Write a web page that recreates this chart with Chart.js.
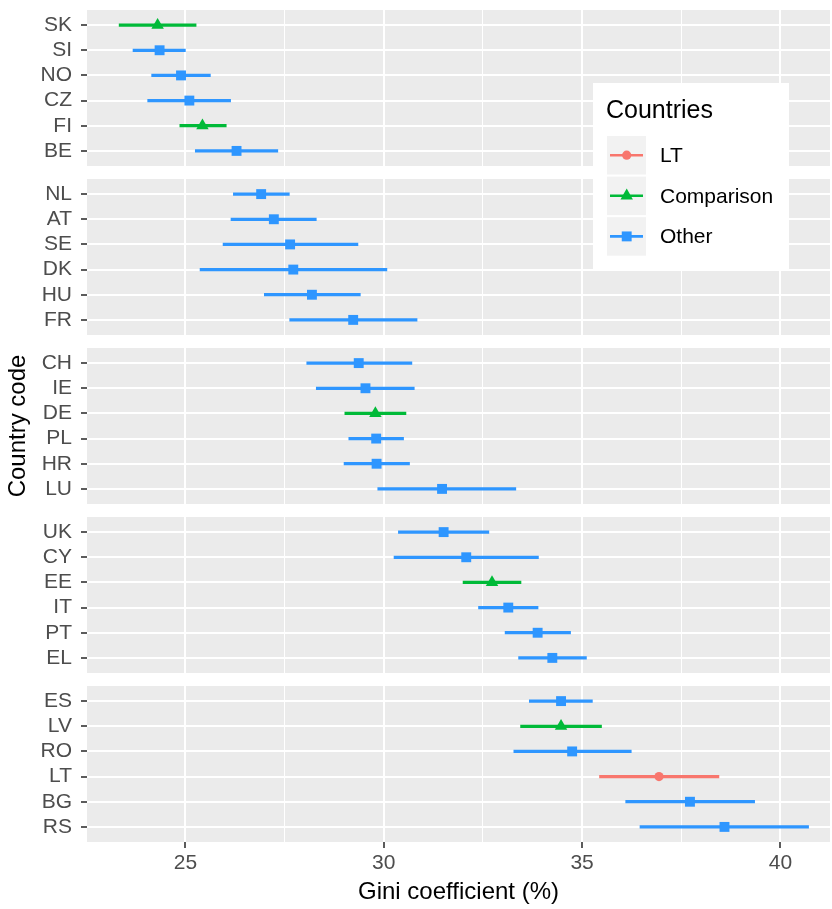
<!DOCTYPE html>
<html lang="en">
<head>
    <meta charset="UTF-8">
    <title>Gini coefficient by country</title>
    <script src="https://cdn.jsdelivr.net/npm/chart.js@4.4.1/dist/chart.umd.min.js"></script>
    <style>
        body { margin: 0; background: #fff; }
        canvas { display: block; }
    </style>
</head>
<body>
<canvas id="myChart" width="832" height="909"></canvas>

<script>
    // countries, top to bottom, 6 per panel
    var countries = ["SK", "SI", "NO", "CZ", "FI", "BE",
                     "NL", "AT", "SE", "DK", "HU", "FR",
                     "CH", "IE", "DE", "PL", "HR", "LU",
                     "UK", "CY", "EE", "IT", "PT", "EL",
                     "ES", "LV", "RO", "LT", "BG", "RS"];
    var groups = ["Comparison", "Other", "Other", "Other", "Comparison", "Other",
                  "Other", "Other", "Other", "Other", "Other", "Other",
                  "Other", "Other", "Comparison", "Other", "Other", "Other",
                  "Other", "Other", "Comparison", "Other", "Other", "Other",
                  "Other", "Comparison", "Other", "LT", "Other", "Other"];
    var gini = [24.30, 24.35, 24.89, 25.10, 25.43, 26.29,
                26.91, 27.23, 27.64, 27.72, 28.19, 29.23,
                29.37, 29.54, 29.79, 29.81, 29.82, 31.47,
                31.51, 32.08, 32.73, 33.14, 33.88, 34.25,
                34.47, 34.47, 34.75, 36.94, 37.72, 38.59];
    var ciLow = [23.33, 23.68, 24.15, 24.05, 24.86, 25.25,
                 26.21, 26.15, 25.95, 25.37, 26.99, 27.63,
                 28.06, 28.30, 29.02, 29.12, 29.00, 29.85,
                 30.37, 30.26, 32.00, 32.39, 33.06, 33.40,
                 33.67, 33.45, 33.28, 35.44, 36.10, 36.46];
    var ciHigh = [25.27, 25.00, 25.63, 26.14, 26.03, 27.33,
                  27.62, 28.30, 29.35, 30.08, 29.41, 30.84,
                  30.71, 30.77, 30.56, 30.50, 30.65, 33.33,
                  32.65, 33.90, 33.46, 33.89, 34.71, 35.11,
                  35.26, 35.49, 36.24, 38.45, 39.35, 40.71];
    var groupNames = ["LT", "Comparison", "Other"];
    var xTicks = [25, 30, 35, 40];
    var xMinorTicks = [27.5, 32.5, 37.5];

    var groupColors = { "LT": "#F8766D", "Comparison": "#00BA38", "Other": "#2E96FF" };
    var groupShapes = { "LT": ["circle", 4.6], "Comparison": ["triangle", 7.2], "Other": ["rect", 7] };

    // layout of the discrete y scale: 6 rows per panel, ggplot style expansion
    var perPanel = 6;
    var expand = 0.6;
    var panelSpan = perPanel - 1 + 2 * expand;
    var gap = 0.517;
    var nPanels = Math.ceil(countries.length / perPanel);
    var yMax = nPanels * panelSpan + (nPanels - 1) * gap;

    function rowPos(i) {
      return Math.floor(i / perPanel) * (panelSpan + gap) + expand + (i % perPanel);
    }
    var yPositions = countries.map(function(c, i) { return rowPos(i); });

    var FONT = '"Liberation Sans", Arial, Helvetica, sans-serif';

    var datasets = [];
    groupNames.forEach(function(g) {
      var idx = [];
      groups.forEach(function(gg, i) { if (gg === g) idx.push(i); });
      datasets.push({
        type: 'scatter',
        label: g,
        order: 1,
        data: idx.map(function(i) { return { x: gini[i], y: yPositions[i] }; }),
        pointStyle: groupShapes[g][0],
        pointRadius: groupShapes[g][1],
        pointBackgroundColor: groupColors[g],
        pointBorderWidth: 0
      });
      datasets.push({
        type: 'bar',
        label: g + ' CI',
        order: 2,
        indexAxis: 'y',
        grouped: false,
        barThickness: 2.6,
        backgroundColor: groupColors[g],
        borderWidth: 0,
        data: idx.map(function(i) { return { y: yPositions[i], x: [ciLow[i], ciHigh[i]] }; })
      });
    });

    // grey panel backgrounds
    var panelPlugin = {
      id: 'panels',
      beforeDraw: function(chart) {
        var c = chart.ctx, area = chart.chartArea, ys = chart.scales.y;
        c.save();
        c.fillStyle = '#EBEBEB';
        for (var p = 0; p < nPanels; p++) {
          var t = ys.getPixelForValue(p * (panelSpan + gap));
          var b = ys.getPixelForValue(p * (panelSpan + gap) + panelSpan);
          c.fillRect(area.left, t, area.right - area.left, b - t);
        }
        c.restore();
      }
    };

    // legend drawn inside the plot, like ggplot's legend.position inside
    var legendPlugin = {
      id: 'innerLegend',
      afterDraw: function(chart) {
        var c = chart.ctx, area = chart.chartArea;
        var bx = area.right - 237, by = area.top + 73;
        c.save();
        c.fillStyle = '#fff';
        c.fillRect(bx, by, 196, 186);
        c.fillStyle = '#000';
        c.font = '25px ' + FONT;
        c.textBaseline = 'alphabetic';
        c.textAlign = 'left';
        c.fillText('Countries', bx + 13, by + 35);
        groupNames.forEach(function(g, k) {
          var kx = bx + 14, ky = by + 53 + k * 40.6;
          c.fillStyle = '#F2F2F2';
          c.fillRect(kx, ky, 39, 38.5);
          var cy = ky + 19.2, cx = kx + 19.7;
          c.strokeStyle = groupColors[g];
          c.lineWidth = 2.6;
          c.beginPath();
          c.moveTo(kx + 3, cy);
          c.lineTo(kx + 36, cy);
          c.stroke();
          c.fillStyle = groupColors[g];
          Chart.helpers.drawPoint(c, { pointStyle: groupShapes[g][0], radius: groupShapes[g][1], rotation: 0, borderWidth: 0 }, cx, cy);
          c.fillStyle = '#000';
          c.font = '21px ' + FONT;
          c.textBaseline = 'middle';
          c.fillText(g, bx + 67, cy + 1);
        });
        c.restore();
      }
    };

    var ctx = document.getElementById('myChart').getContext('2d');

    var myChart = new Chart(ctx, {
      type: 'scatter',
      data: { datasets: datasets },
      plugins: [panelPlugin, legendPlugin],
      options: {
        responsive: false,
        animation: false,
        layout: { autoPadding: false, padding: { top: 10, right: 2, left: 0, bottom: 0 } },
        plugins: {
          legend: { display: false },
          tooltip: { enabled: false }
        },
        scales: {
          x: {
            type: 'linear',
            min: 22.52,
            max: 41.25,
            offset: false,
            afterBuildTicks: function(s) {
              s.ticks = xMinorTicks.concat(xTicks).sort(function(a, b) { return a - b; })
                .map(function(v) { return { value: v }; });
            },
            afterFit: function(s) {
              s.height = 67;
              s.paddingLeft = 0;
              s.paddingRight = 0;
            },
            border: { display: false },
            grid: {
              offset: false,
              color: '#fff',
              lineWidth: function(c) { return c.tick && c.tick.value % 5 === 0 ? 2 : 1; },
              tickColor: function(c) { return c.tick && c.tick.value % 5 === 0 ? '#333' : 'rgba(0,0,0,0)'; },
              tickLength: 6,
              tickWidth: 1.6
            },
            ticks: {
              autoSkip: false,
              maxRotation: 0,
              padding: 3,
              color: '#4D4D4D',
              font: { family: FONT, size: 21 },
              callback: function(v) { return v % 5 === 0 ? v : ''; }
            },
            title: {
              display: true,
              text: 'Gini coefficient (%)',
              color: '#000',
              font: { family: FONT, size: 24 },
              padding: { top: 0, bottom: 2 }
            }
          },
          y: {
            type: 'linear',
            reverse: true,
            min: 0,
            max: yMax,
            offset: false,
            afterBuildTicks: function(s) {
              s.ticks = yPositions.map(function(v) { return { value: v }; });
            },
            afterFit: function(s) {
              s.width = 87;
              s.paddingTop = 0;
              s.paddingBottom = 0;
            },
            border: { display: false },
            grid: {
              offset: false,
              color: '#fff',
              lineWidth: 2,
              tickColor: '#333',
              tickLength: 6,
              tickWidth: 1.6
            },
            ticks: {
              autoSkip: false,
              padding: 9,
              color: '#4D4D4D',
              font: { family: FONT, size: 21 },
              callback: function(v, i) { return countries[i]; }
            },
            title: {
              display: true,
              text: 'Country code',
              color: '#000',
              font: { family: FONT, size: 24 },
              padding: { top: 4, bottom: 0 }
            }
          }
        }
      }
    });
</script>
</body>
</html>
